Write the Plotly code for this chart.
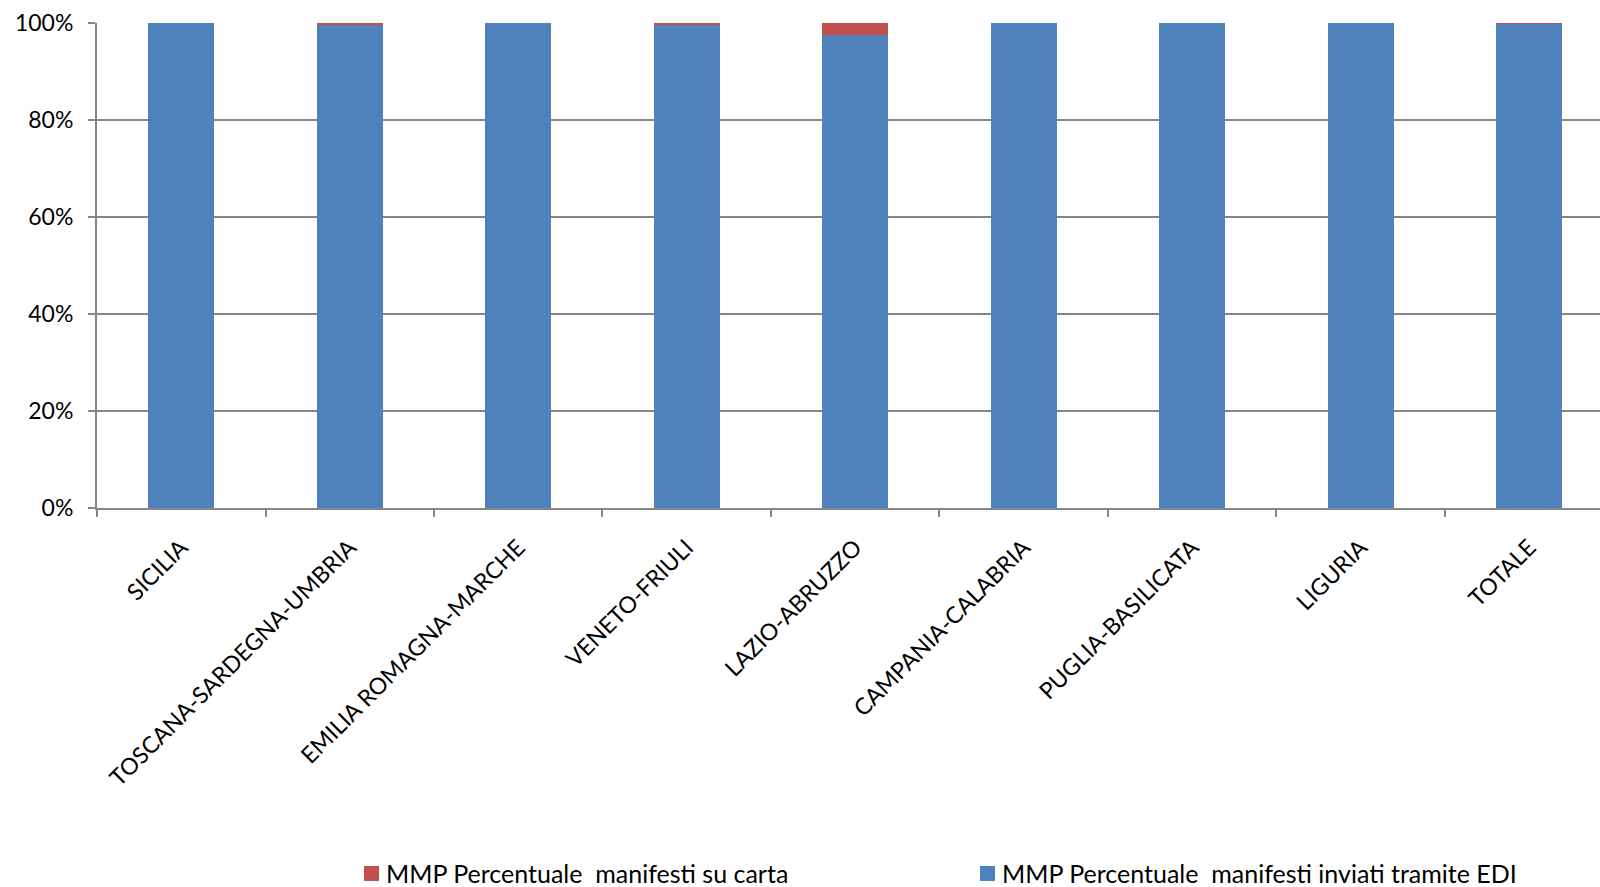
import plotly.graph_objects as go

# Regions and shares of cargo manifests (percent)
regioni = [
    "SICILIA",
    "TOSCANA-SARDEGNA-UMBRIA",
    "EMILIA ROMAGNA-MARCHE",
    "VENETO-FRIULI",
    "LAZIO-ABRUZZO",
    "CAMPANIA-CALABRIA",
    "PUGLIA-BASILICATA",
    "LIGURIA",
    "TOTALE",
]
pct_carta = [0.0, 0.4, 0.0, 0.3, 2.4, 0.0, 0.0, 0.0, 0.2]
pct_edi = [100.0, 99.6, 100.0, 99.7, 97.6, 100.0, 100.0, 100.0, 99.8]

nome_carta = "MMP Percentuale\u00a0 manifesti su carta"
nome_edi = "MMP Percentuale\u00a0 manifesti inviati tramite EDI"

COL_CARTA = "#C0504D"
COL_EDI = "#4F81BD"

FONT = "Lato, 'Open Sans', sans-serif"
PLOT_L, PLOT_W, PLOT_T, PLOT_H = 97, 1503, 23, 485


def px_x(px):
    return (px - PLOT_L) / PLOT_W


def px_y(py):
    return (PLOT_T + PLOT_H - py) / PLOT_H


fig = go.Figure()
fig.add_trace(go.Bar(
    x=regioni, y=pct_edi, name=nome_edi,
    marker=dict(color=COL_EDI, line=dict(width=0)),
    width=0.39,
))
fig.add_trace(go.Bar(
    x=regioni, y=pct_carta, name=nome_carta,
    marker=dict(color=COL_CARTA, line=dict(width=0)),
    width=0.39,
))

# Legend drawn below the axis: a colour square followed by the series name
legend_items = [(364, nome_carta, COL_CARTA), (980, nome_edi, COL_EDI)]
LEG_Y = 873
for x0, nome, col in legend_items:
    fig.add_shape(
        type="rect", xref="paper", yref="paper",
        x0=px_x(x0), x1=px_x(x0 + 15),
        y0=px_y(LEG_Y + 8), y1=px_y(LEG_Y - 7),
        fillcolor=col, line=dict(width=0),
    )
    fig.add_annotation(
        xref="paper", yref="paper",
        x=px_x(x0 + 20), y=px_y(LEG_Y),
        xanchor="left", yanchor="middle",
        text=nome, showarrow=False,
        font=dict(family=FONT, size=25, color="#000000"),
    )

fig.update_layout(
    width=1600, height=887,
    margin=dict(l=PLOT_L, r=0, t=PLOT_T, b=887 - PLOT_T - PLOT_H),
    barmode="stack",
    plot_bgcolor="white",
    paper_bgcolor="white",
    font=dict(family=FONT, size=22, color="#000000"),
    showlegend=False,
)

fig.update_xaxes(
    range=[-0.5, 8.42],
    tickangle=-45,
    tickfont=dict(family=FONT, size=23, color="#000000"),
    ticklabelstandoff=15,
    showline=True, linecolor="#868686", linewidth=2,
    ticks="outside", ticklen=7, tickcolor="#868686", tickwidth=2,
    tickson="boundaries",
    showgrid=False,
)
fig.update_yaxes(
    range=[0, 100],
    tickvals=[0, 20, 40, 60, 80, 100],
    ticktext=["0%", "20%", "40%", "60%", "80%", "100%"],
    tickfont=dict(family=FONT, size=23, color="#000000"),
    ticklabelstandoff=10,
    showgrid=True, gridcolor="#868686", gridwidth=2,
    showline=True, linecolor="#868686", linewidth=2,
    ticks="outside", ticklen=7, tickcolor="#868686", tickwidth=2,
    zeroline=False,
)

fig.write_html("out.html")
